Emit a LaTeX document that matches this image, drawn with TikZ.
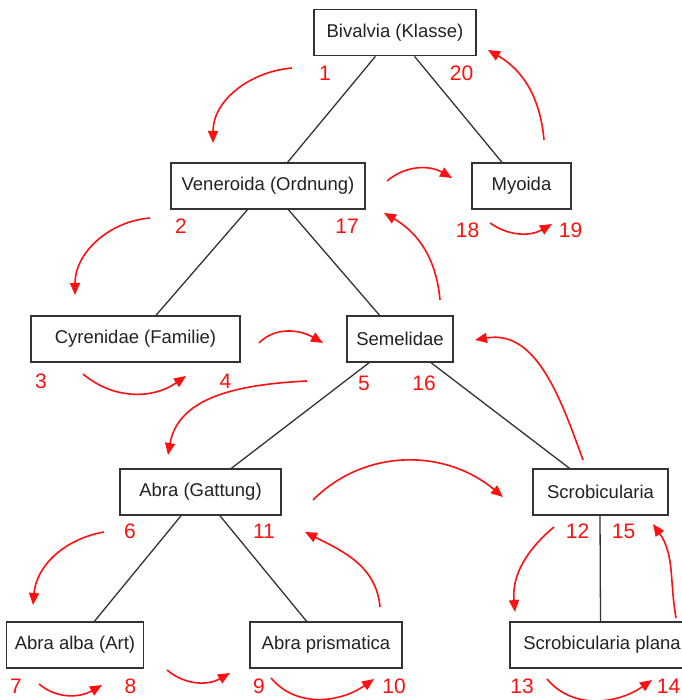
\documentclass[tikz,border=0pt]{standalone}
\usepackage{fontspec}
\setmainfont{Liberation Sans}
\usetikzlibrary{arrows.meta}
\definecolor{boxline}{HTML}{333333}
\definecolor{txt}{HTML}{222222}
\definecolor{arr}{HTML}{FF1010}
\begin{document}
\begin{tikzpicture}[x=1pt,y=1pt,
  taxbox/.style={draw=boxline, line width=1.4pt, fill=white, minimum height=46pt, inner sep=0pt, text=txt, font=\fontsize{18.5}{18.5}\selectfont},
  treeline/.style={draw=boxline, line width=1.3pt},
  num/.style={text=arr, inner sep=0pt, font=\fontsize{21}{21}\selectfont},
  redarrow/.style={draw=arr, line width=1.6pt, -{Triangle[length=12pt,width=10pt]}}]
\useasboundingbox (0,0) rectangle (681,700);
\fill[white] (0,0) rectangle (681,700);

% boxes
\node[taxbox, minimum width=162pt] (biv) at (395,667.3) {Bivalvia (Klasse)};
\node[taxbox, minimum width=194pt] (ven) at (268,514) {Veneroida (Ordnung)};
\node[taxbox, minimum width=99pt] (myo) at (521.5,514) {Myoida};
\node[taxbox, minimum width=209pt] (cyr) at (135.5,361) {Cyrenidae (Familie)};
\node[taxbox, minimum width=106pt] (sem) at (400,361) {Semelidae};
\node[taxbox, minimum width=161pt] (abra) at (200.5,208) {Abra (Gattung)};
\node[taxbox, minimum width=135pt] (scro) at (600.5,208) {Scrobicularia};
\node[taxbox, minimum width=137pt] (alba) at (75,55) {Abra alba (Art)};
\node[taxbox, minimum width=152pt] (pris) at (326,55) {Abra prismatica};
\node[taxbox, minimum width=184pt] (plana) at (602,55) {Scrobicularia plana};

% tree lines
\draw[treeline] (biv) -- (ven);
\draw[treeline] (biv) -- (myo);
\draw[treeline] (ven) -- (cyr);
\draw[treeline] (ven) -- (sem);
\draw[treeline] (sem) -- (abra);
\draw[treeline] (sem) -- (scro);
\draw[treeline] (abra) -- (alba);
\draw[treeline] (abra) -- (pris);
\draw[treeline] ([xshift=-0.5pt]scro.south) -- ([xshift=-1.5pt]plana.north);

% numbers
\node[num] (n1) at (325,627) {1};
\node[num] (n20) at (461.5,627) {20};
\node[num] (n2) at (181,473.5) {2};
\node[num] (n17) at (347,473.5) {17};
\node[num] (n18) at (467.5,470) {18};
\node[num] (n19) at (570.5,470) {19};
\node[num] (n3) at (41,319) {3};
\node[num] (n4) at (225.5,319) {4};
\node[num] (n5) at (364,316.5) {5};
\node[num] (n16) at (424,316.5) {16};
\node[num] (n6) at (130,169) {6};
\node[num] (n11) at (264,169) {11};
\node[num] (n12) at (577.5,169) {12};
\node[num] (n15) at (623.5,169) {15};
\node[num] (n7) at (16,13.5) {7};
\node[num] (n8) at (130.5,13.5) {8};
\node[num] (n9) at (259,13.5) {9};
\node[num] (n10) at (394,13.5) {10};
\node[num] (n13) at (522,13.5) {13};
\node[num] (n14) at (668.5,13.5) {14};

% arrow end points
\coordinate (a1s) at (292,632);  \coordinate (a1e) at (213,557);
\coordinate (a20s) at (544,560); \coordinate (a20e) at (488,650);
\coordinate (avms) at (387,519); \coordinate (avme) at (452,522);
\coordinate (a2s) at (150,482);  \coordinate (a2e) at (75,405);
\coordinate (a17s) at (440,400); \coordinate (a17e) at (384,487);
\coordinate (a18s) at (490,477); \coordinate (a18e) at (552,476);
\coordinate (a3s) at (83,326);   \coordinate (a3e) at (186,324);
\coordinate (acss) at (259,357); \coordinate (acse) at (323,357);
\coordinate (a5s) at (307,319);  \coordinate (a5e) at (168,245);
\coordinate (a16s) at (583,240); \coordinate (a16e) at (475,360);
\coordinate (aass) at (313,200); \coordinate (aase) at (503,203);
\coordinate (a6s) at (104,168);  \coordinate (a6e) at (33,95);
\coordinate (a11s) at (380,93);  \coordinate (a11e) at (305,168);
\coordinate (a12s) at (554,173); \coordinate (a12e) at (515,88);
\coordinate (a15s) at (676,82);  \coordinate (a15e) at (653,176);
\coordinate (a7s) at (39,16);    \coordinate (a7e) at (102,15);
\coordinate (aaps) at (167,30);  \coordinate (aape) at (230,27);
\coordinate (a9s) at (271,22);   \coordinate (a9e) at (374,21);
\coordinate (a13s) at (547,21);  \coordinate (a13e) at (652,20);

% red arrows
\draw[redarrow] (a1s) to[out=185,in=90] (a1e);
\draw[redarrow] (a20s) to[out=95,in=-30] (a20e);
\draw[redarrow] (avms) to[out=40,in=150] (avme);
\draw[redarrow] (a2s) to[out=185,in=90] (a2e);
\draw[redarrow] (a17s) to[out=95,in=-30] (a17e);
\draw[redarrow] (a18s) to[out=-35,in=210] (a18e);
\draw[redarrow] (a3s) to[out=-40,in=215] (a3e);
\draw[redarrow] (acss) to[out=45,in=150] (acse);
\draw[redarrow] (a5s) to[out=183,in=80] (a5e);
\draw[redarrow] (a16s) to[out=110,in=10] (a16e);
\draw[redarrow] (aass) to[out=45,in=140] (aase);
\draw[redarrow] (a6s) to[out=190,in=85] (a6e);
\draw[redarrow] (a11s) to[out=95,in=-27] (a11e);
\draw[redarrow] (a12s) to[out=220,in=95] (a12e);
\draw[redarrow] (a15s) to[out=100,in=-55] (a15e);
\draw[redarrow] (a7s) to[out=-40,in=210] (a7e);
\draw[redarrow] (aaps) to[out=-40,in=210] (aape);
\draw[redarrow] (a9s) to[out=-50,in=215] (a9e);
\draw[redarrow] (a13s) to[out=-50,in=215] (a13e);
\end{tikzpicture}
\end{document}
